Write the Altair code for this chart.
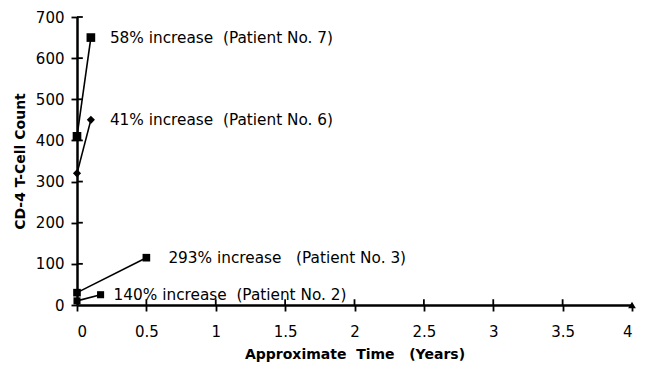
import altair as alt
import pandas as pd

NB = "\u00a0"
patients = ["7", "7", "6", "6", "3", "3", "2", "2"]
times = [0.0, 0.1, 0.0, 0.1, 0.0, 0.5, 0.0, 0.17]
counts = [410, 650, 320, 450, 30, 115, 10, 25]

label_patients = ["7", "6", "3", "2"]
label_times = [0.1, 0.1, 0.5, 0.17]
label_counts = [650, 450, 115, 25]
label_texts = [
    f"58% increase{NB}{NB}(Patient No. 7)",
    f"41% increase{NB}{NB}(Patient No. 6)",
    f"293% increase{NB}{NB}{NB}(Patient No. 3)",
    f"140% increase{NB}{NB}(Patient No. 2)",
]
label_dx = [19, 19, 22, 13]

x_tick_values = [0, 0.5, 1, 1.5, 2, 2.5, 3, 3.5, 4]
y_tick_values = [0, 100, 200, 300, 400, 500, 600, 700]
x_inner = [0.5, 1, 1.5, 2, 2.5, 3, 3.5]
y_inner = [100, 200, 300, 400, 500, 600, 700]

df = pd.DataFrame({"patient": patients, "time": times, "count": counts})
lab = pd.DataFrame({"lpatient": label_patients, "ltime": label_times,
                    "lcount": label_counts, "ltext": label_texts})

FONT = "DejaVu Sans"
xs = alt.Scale(domain=[0, 4], nice=False)
ys = alt.Scale(domain=[0, 700], nice=False)

x_axis = alt.Axis(values=x_tick_values,
                  labelExpr="datum.value == 0 ? '0' : format(datum.value, '.1~f')",
                  grid=False, ticks=True, tickSize=6, tickWidth=1.8, tickColor="black",
                  domainWidth=2.5, domainColor="black",
                  labelFont=FONT, labelFontSize=15, labelColor="black", labelPadding=13,
                  title=f"Approximate{NB}{NB}Time{NB}{NB}{NB}(Years)", titleFont=FONT,
                  titleFontSize=14, titleFontWeight="bold", titleColor="black", titlePadding=8)
y_axis = alt.Axis(values=y_tick_values, grid=False,
                  ticks=True, tickSize=6, tickWidth=1.8, tickColor="black",
                  domainWidth=2.5, domainColor="black",
                  labelFont=FONT, labelFontSize=15, labelColor="black", labelPadding=7,
                  title="CD-4 T-Cell Count", titleFont=FONT, titleFontSize=14,
                  titleFontWeight="bold", titleColor="black", titlePadding=8)

lines = alt.Chart(df).mark_line(color="black", strokeWidth=1.6).encode(
    x=alt.X("time:Q", scale=xs, axis=x_axis),
    y=alt.Y("count:Q", scale=ys, axis=y_axis),
    detail="patient:N",
)
xt = alt.Chart(pd.DataFrame({"xtick": x_inner})).mark_rule(
    color="black", strokeWidth=1.8).encode(
    x=alt.X("xtick:Q", scale=xs), y=alt.datum(0), y2=alt.datum(14))
yt = alt.Chart(pd.DataFrame({"ytick": y_inner})).mark_rule(
    color="black", strokeWidth=1.8).encode(
    y=alt.Y("ytick:Q", scale=ys), x=alt.datum(0), x2=alt.datum(0.042))
points = alt.Chart(df).mark_point(filled=True, opacity=1, color="black").encode(
    x=alt.X("time:Q", scale=xs),
    y=alt.Y("count:Q", scale=ys),
    shape=alt.Shape("patient:N", scale=alt.Scale(domain=["7", "6", "3", "2"],
                    range=["square", "diamond", "square", "square"]), legend=None),
    size=alt.Size("patient:N", scale=alt.Scale(domain=["7", "6", "3", "2"],
                  range=[75, 50, 75, 65]), legend=None),
)
arrow = alt.Chart(pd.DataFrame({"ax": [4], "ay": [0]})).mark_point(
    shape="triangle-up", filled=True, opacity=1, color="black", size=60).encode(
    x=alt.X("ax:Q", scale=xs), y=alt.Y("ay:Q", scale=ys))

texts = []
for i in range(len(label_texts)):
    texts.append(alt.Chart(lab.iloc[[i]].reset_index(drop=True)).mark_text(
        align="left", baseline="middle", dx=label_dx[i], font=FONT, fontSize=15.3,
        color="black").encode(
        x=alt.X("ltime:Q", scale=xs), y=alt.Y("lcount:Q", scale=ys), text="ltext:N"))

chart = alt.layer(lines, xt, yt, points, arrow, *texts).properties(
    width=555, height=288,
    autosize=alt.AutoSizeParams(type="none"),
    padding={"left": 69, "top": 9, "right": 10, "bottom": 60},
    background="white",
).configure_view(stroke=None)

chart.save("out.html", embed_options={"renderer": "svg", "actions": False})
